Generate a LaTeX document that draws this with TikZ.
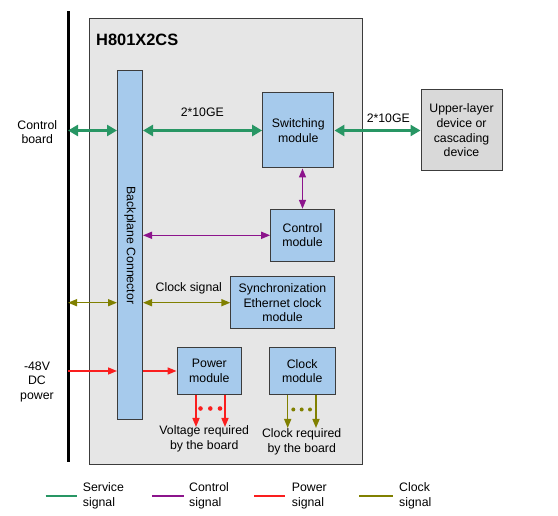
\documentclass[tikz,border=0pt]{standalone}
\usepackage{fontspec}
\setmainfont{Liberation Sans}
\usetikzlibrary{arrows.meta}
\definecolor{svcgreen}{RGB}{40,150,100}
\definecolor{ctlpurple}{RGB}{140,20,140}
\definecolor{pwrred}{RGB}{250,30,30}
\definecolor{clkolive}{RGB}{128,128,0}
\definecolor{modblue}{RGB}{166,202,236}
\definecolor{boardgray}{RGB}{230,230,230}
\definecolor{devgray}{RGB}{217,217,217}
\definecolor{edgegray}{RGB}{60,60,60}
\begin{document}
\begin{tikzpicture}[x=1pt,y=-1pt]
				\tikzstyle{Module} = [rectangle, draw=edgegray, line width=1pt, fill=modblue, inner sep=0pt, align=center, font=\fontsize{12.3}{14.6}\selectfont]
				\tikzstyle{Label} = [inner sep=0pt, align=center, font=\fontsize{12.3}{14.6}\selectfont]
				\tikzstyle{Service} = [svcgreen, line width=3pt, {Triangle[length=10pt,width=11pt]}-{Triangle[length=10pt,width=11pt]}]
				\tikzstyle{Control} = [ctlpurple, line width=1.5pt, {Triangle[length=9pt,width=7pt]}-{Triangle[length=9pt,width=7pt]}]
				\tikzstyle{Clock} = [clkolive, line width=1.5pt, {Triangle[length=9pt,width=7pt]}-{Triangle[length=9pt,width=7pt]}]
				\tikzstyle{ClockOut} = [clkolive, line width=1.5pt, -{Triangle[length=9pt,width=7pt]}]
				\tikzstyle{Power} = [pwrred, line width=1.5pt, -{Triangle[length=9pt,width=7pt]}]
				\useasboundingbox (0,0) rectangle (558,516);
				% board and bus
				\node (board) at (225.5,241.5) [rectangle, draw=edgegray, line width=1pt, fill=boardgray, minimum width=273, minimum height=446] {};
				\node (title) at (96,40) [anchor=west, inner sep=0pt, font=\fontsize{16.4}{18}\selectfont\bfseries] {H801X2CS};
				\draw [line width=3pt] (68,11.5) -- (68,462);
				\coordinate (bsvc) at (68,130.5);
				\coordinate (bclk) at (68,302.7);
				\coordinate (bpwr) at (68,371);
				% modules
				\node (bp) at (130,245.5) [Module, minimum width=25, minimum height=349] {};
				\node at (bp.center) [Label, rotate=-90] {Backplane Connector};
				\node (sw) at (298.3,130.5) [Module, minimum width=71.3, minimum height=75] {Switching\\module};
				\node (ctl) at (302.5,235.3) [Module, minimum width=63.6, minimum height=52] {Control\\module};
				\node (sync) at (282.5,302.7) [Module, minimum width=103.3, minimum height=52] {Synchronization\\Ethernet clock\\module};
				\node (pwr) at (209.4,371) [Module, minimum width=64.7, minimum height=47.6] {Power\\module};
				\node (clk) at (302.2,371) [Module, minimum width=65.7, minimum height=47.6] {Clock\\module};
				\node (up) at (461.5,130.5) [Module, fill=devgray, minimum width=81, minimum height=81] {Upper-layer\\device or\\cascading\\device};
				% side labels
				\node (cb) at (37.3,132) [Label] {Control\\board};
				\node (dc) at (37,381.7) [Label] {-48V\\DC\\power};
				% service signal
				\draw [Service] (bsvc) to (bsvc -| bp.west);
				\draw [Service] (bp.east |- sw.west) to (sw.west);
				\draw [Service] (sw.east) to (up.west);
				\node (ge1) at (202.3,112.7) [Label] {2*10GE};
				\node (ge2) at (388.3,118.3) [Label] {2*10GE};
				% control signal
				\draw [Control] (sw.south -| ctl.north) to (ctl.north);
				\draw [Control] (bp.east |- ctl.west) to (ctl.west);
				% clock signal
				\draw [Clock] (bclk) to (bclk -| bp.west);
				\draw [Clock] (bp.east |- sync.west) to (sync.west);
				\node (cs) at (188.8,288.3) [Label] {Clock signal};
				% power signal
				\draw [Power] (bpwr) to (bpwr -| bp.west);
				\draw [Power] (bp.east |- pwr.west) to (pwr.west);
				% outputs of the power and clock modules
				\coordinate (v1) at (196,427);
				\coordinate (v2) at (225,427);
				\coordinate (c1) at (287.7,428);
				\coordinate (c2) at (316,428);
				\draw [Power] (pwr.south -| v1) to (v1);
				\draw [Power] (pwr.south -| v2) to (v2);
				\draw [ClockOut] (clk.south -| c1) to (c1);
				\draw [ClockOut] (clk.south -| c2) to (c2);
				\foreach \x in {200.5,210.3,220} \fill [pwrred] (\x,408.5) circle (2.3pt);
				\foreach \x in {293.3,301.7,310} \fill [clkolive] (\x,409.5) circle (2pt);
				\node (vreq) at (204.2,438.8) [Label] {Voltage required\\by the board};
				\node (creq) at (301.7,442) [Label] {Clock required\\by the board};
				% legend
				\draw [svcgreen, line width=1.5pt] (45.7,496) -- (76.7,496);
				\node (lsvc) at (82.7,496) [Label, anchor=west, align=left] {Service\\signal};
				\draw [ctlpurple, line width=1.5pt] (152,496) -- (184,496);
				\node (lctl) at (189,496) [Label, anchor=west, align=left] {Control\\signal};
				\draw [pwrred, line width=1.5pt] (254,496) -- (285,496);
				\node (lpwr) at (291.7,496) [Label, anchor=west, align=left] {Power\\signal};
				\draw [clkolive, line width=1.5pt] (359,496) -- (393,496);
				\node (lclk) at (399,496) [Label, anchor=west, align=left] {Clock\\signal};
			\end{tikzpicture}
\end{document}
